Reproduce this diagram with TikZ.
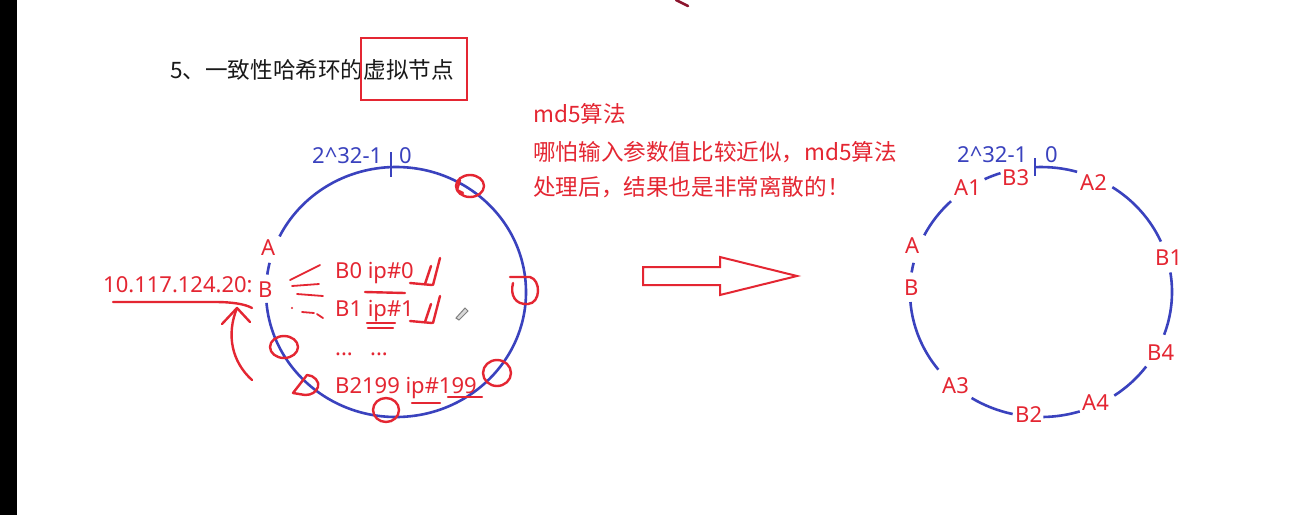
\documentclass[tikz,border=0pt]{standalone}
\usepackage{fontspec}
\setmainfont{Noto Sans}
\newfontfamily\cjk{Noto Sans CJK SC}
\definecolor{hred}{RGB}{228,38,50}
\definecolor{dred}{RGB}{140,20,45}
\definecolor{rblue}{RGB}{58,66,190}
\definecolor{ttl}{RGB}{25,25,25}
\begin{document}
\begin{tikzpicture}[x=1pt,y=1pt,
 ring/.style={draw=rblue,line width=2.6},
 tickmark/.style={draw=rblue,line width=2.2},
 bl/.style={text=rblue,font=\fontsize{22}{25}\selectfont,inner sep=0,anchor=base west},
 rl/.style={text=hred,font=\fontsize{22}{25}\selectfont,inner sep=0,anchor=base west},
 hand/.style={draw=hred,line width=2.4,line cap=round,line join=round},
 thin hand/.style={hand,line width=1.8},
 ctext/.style={text=hred,font=\cjk\fontsize{22.6}{25}\selectfont,inner sep=0,anchor=base west}]
\useasboundingbox (0,0) rectangle (1304,-515);
\fill[white] (0,0) rectangle (1304,-515);
\fill[black] (0,0) rectangle (17,-515);
\draw[dred,line width=2.5,line cap=round] (676,0) -- (688,-6);

% title
\node[anchor=base west,inner sep=0,text=ttl,font=\cjk\fontsize{22.6}{25}\selectfont] (title) at (170,-78) {5、一致性哈希环的虚拟节点};
\draw[hred,line width=2] (361,-38) rectangle (467,-100);

% left ring
\coordinate (L) at (396,-292);
\draw[ring] (L) ++(185:130 and 125) arc[start angle=185,end angle=513.6,x radius=130,y radius=125];
\draw[ring] (L) ++(166.5:130 and 125) arc[start angle=166.5,end angle=172,x radius=130,y radius=125];
\draw[tickmark] (391,-152) -- (391,-177);
\node[bl] (l232) at (312,-163) {2\textasciicircum 32-1};
\node[bl] (l0) at (399,-163) {0};
\node[rl] (lA) at (261,-255) {A};
\node[rl] (lB) at (258,-297) {B};
\node[rl] (ip) at (103,-292) {10.117.124.20:};
\node[rl] (b0) at (335,-278) {B0 ip\#0};
\node[rl] (b1) at (335,-316) {B1 ip\#1};
\node[rl] (d1) at (335,-355) {...};
\node[rl] (d2) at (370,-355) {...};
\node[rl] (b2199) at (335,-393) {B2199 ip\#199};

% handwriting on the left ring
\draw[hand] (113,-302) -- (215,-302) .. controls (232,-302) and (245,-304) .. (252,-308);
\coordinate (atip) at (237,-308);
\draw[hand] (252,-380) .. controls (232,-362) and (226,-335) .. (atip);
\draw[hand] (222,-324) -- (atip) -- (250,-322);
\draw[thin hand] (290,-280) -- (320,-265);
\draw[thin hand] (292,-286) -- (319,-284);
\draw[thin hand] (297,-294) -- (323,-296);
\draw[thin hand] (302,-312) -- (314,-313);
\draw[thin hand] (317,-314) -- (323,-318);
\fill[hred] (292,-308) circle (1.2);
\foreach \dy in {0,-38}{
  \draw[hand] (410,-283+\dy) -- (432,-285+\dy);
  \draw[hand] (425,-284+\dy) -- (431,-266+\dy);
  \draw[hand] (433,-285+\dy) -- (440,-258+\dy);
}
\draw[hand] (365,-292) -- (405,-293);
\draw[hand] (367,-323) -- (395,-323);
\draw[hand] (368,-328) -- (393,-328);
\draw[hand] (412,-403) -- (440,-403);
\draw[hand] (448,-397) -- (482,-397);
\draw[hand] (470,-186) ellipse [x radius=14,y radius=11];
\draw[hand] (460,-180) -- (457,-190) -- (463,-193);
\draw[hand] (510,-277) -- (530,-277) .. controls (541,-280) and (541,-303) .. (528,-304) .. controls (515,-305) and (510,-295) .. (513,-283);
\draw[hand] (497,-373) ellipse [x radius=14,y radius=13];
\draw[hand] (386,-410) ellipse [x radius=13,y radius=12];
\draw[hand] (284,-347) ellipse [x radius=14,y radius=11];
\draw[hand] (293,-393) -- (307,-375) .. controls (314,-375) and (320,-382) .. (318,-387) .. controls (316,-392) and (312,-395) .. (305,-395) -- cycle;
\draw[gray,line width=1,fill=gray!30] (456,-318) -- (465,-308) -- (468,-311) -- (459,-320) -- cycle;

% red explanation
\node[ctext] (m1) at (533,-122) {md5算法};
\node[ctext] (m2) at (533,-160) {哪怕输入参数值比较近似，md5算法};
\node[ctext] (m3) at (533,-195) {处理后，结果也是非常离散的！};

% big arrow
\draw[hred,line width=2,line join=miter] (643,-267) -- (720,-267) -- (720,-257) -- (797,-276) -- (720,-295) -- (720,-285) -- (643,-285) -- cycle;

% right ring
\coordinate (R) at (1041,-292);
\foreach \a/\b in {74/92.6, 23.8/57, -20/9, -56/-36.6, -89/-72.8, -122/-102.5, 184.6/218.4, 166.5/171, 133.4/153, 108/115.5}
  \draw[ring] (R) ++(\a:131 and 125) arc[start angle=\a,end angle=\b,x radius=131,y radius=125];
\draw[tickmark] (1035,-158) -- (1035,-176);
\node[bl] (r232) at (957,-162) {2\textasciicircum 32-1};
\node[bl] (r0) at (1045,-162) {0};
\node[rl] (A1) at (954,-195) {A1};
\node[rl] (B3) at (1002,-185) {B3};
\node[rl] (A2) at (1080,-190) {A2};
\node[rl] (B1) at (1155,-265) {B1};
\node[rl] (B4) at (1147,-360) {B4};
\node[rl] (A4) at (1082,-410) {A4};
\node[rl] (B2) at (1015,-422) {B2};
\node[rl] (A3) at (942,-393) {A3};
\node[rl] (rA) at (905,-253) {A};
\node[rl] (rB) at (904,-295) {B};
\end{tikzpicture}
\end{document}
